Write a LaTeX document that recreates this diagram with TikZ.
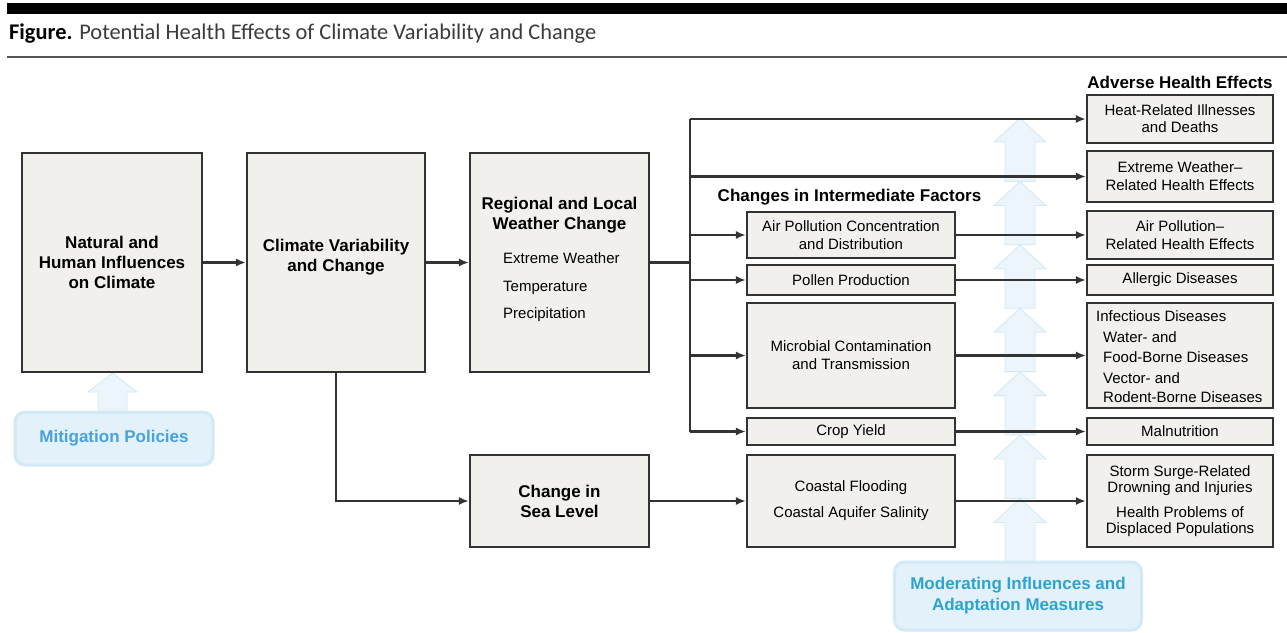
\documentclass[tikz,border=0pt]{standalone}
\usepackage{fontspec}
\setmainfont{Liberation Sans}
\newfontfamily\titlefont{Carlito}
\usetikzlibrary{arrows.meta,calc}
\definecolor{boxfill}{HTML}{F1F0EC}
\definecolor{boxline}{HTML}{333333}
\definecolor{titlegray}{HTML}{3B3B3B}
\definecolor{rulegray}{HTML}{555555}
\definecolor{blutxt}{HTML}{47A2DF}
\definecolor{tealtxt}{HTML}{2EA3CF}
\definecolor{bluefill}{HTML}{E3F1FA}
\definecolor{blueedge}{HTML}{D2E9F6}
\definecolor{arrowfill}{HTML}{DDEFF9}
\definecolor{arrowedge}{HTML}{CBE4F3}
\begin{document}
\begin{tikzpicture}[x=1pt,y=-1pt,
  box/.style={draw=boxline, line width=2.1pt, fill=boxfill, inner sep=0pt, align=center,
              font=\fontsize{15}{18}\selectfont},
  bbox/.style={box, font=\bfseries\fontsize{17}{20}\selectfont},
  txt/.style={inner sep=0pt, font=\fontsize{15}{18}\selectfont},
  hdr/.style={inner sep=0pt, font=\bfseries\fontsize{17}{20}\selectfont},
  conn/.style={draw=boxline, line width=2.1pt},
  arr/.style={conn, -{Latex[length=10pt,width=8pt]}},
  bluebox/.style={draw=blueedge, line width=3pt, fill=bluefill, rounded corners=10pt, align=center,
                  inner sep=0pt, font=\bfseries\fontsize{17}{20}\selectfont},
  uparrow/.style={fill=arrowfill, fill opacity=0.6, draw=arrowedge, draw opacity=0.8, line width=0.8pt}
]
\useasboundingbox (0,0) rectangle (1287,632);

% header
\fill[black] (7,3) rectangle (1287,14);
\node[anchor=base west, inner sep=0pt] (title) at (9,39)
  {\titlefont\fontsize{22.4}{26}\selectfont\textbf{Figure.} \color{titlegray}Potential Health Effects of Climate Variability and Change};
\draw[rulegray, line width=1.8pt] (7,57) -- (1287,57);

% moderating arrows column (behind everything)
\foreach \t in {118,181.4,244.8,308.2,371.6,435,498.4} {
  \draw[uparrow] (1005,{\t+63.4}) -- (1005,{\t+24}) -- (994,{\t+24}) -- (1020,\t)
     -- (1046,{\t+24}) -- (1035,{\t+24}) -- (1035,{\t+63.4}) -- cycle;
}

% mitigation arrow
\draw[uparrow] (98,413) -- (98,392) -- (88,392) -- (112.5,373) -- (137,392) -- (127,392) -- (127,413) -- cycle;

% main boxes
\node[bbox, minimum width=180pt, minimum height=219pt] (nat) at (112,262.5)
  {Natural and\\Human Influences\\on Climate};
\node[bbox, minimum width=178pt, minimum height=219pt] (cvc) at (336,262.5)
  {Climate Variability\\and Change\\[-6pt]};
\node[box, minimum width=179pt, minimum height=219pt] (reg) at (559.5,262.5) {};
\node[hdr, align=center, anchor=north] (regt) at (559.5,197) {Regional and Local\\Weather Change};
\node[txt, anchor=base west] (rw1) at (503,263) {Extreme Weather};
\node[txt, anchor=base west] (rw2) at (503,291) {Temperature};
\node[txt, anchor=base west] (rw3) at (503,318) {Precipitation};
\node[bbox, minimum width=179pt, minimum height=92pt] (sea) at (559.5,501)
  {Change in\\Sea Level};

% intermediate factors
\node[hdr, anchor=base] (cif) at (849.5,201) {Changes in Intermediate Factors};
\node[box, minimum width=208pt, minimum height=46pt] (air) at (851,235)
  {Air Pollution Concentration\\and Distribution};
\node[box, minimum width=208pt, minimum height=30pt] (pol) at (851,280) {Pollen Production};
\node[box, minimum width=208pt, minimum height=105pt] (mic) at (851,355.5)
  {Microbial Contamination\\and Transmission};
\node[box, minimum width=208pt, minimum height=27pt] (crop) at (851,431.5) {Crop Yield};
\node[box, minimum width=208pt, minimum height=92pt, font=\fontsize{15}{26}\selectfont] (coast) at (851,501)
  {Coastal Flooding\\Coastal Aquifer Salinity};

% adverse health effects
\node[hdr, anchor=base] (ahe) at (1180,88) {Adverse Health Effects};
\node[box, minimum width=186pt, minimum height=48pt, font=\fontsize{15}{17}\selectfont] (heat) at (1180,119)
  {Heat-Related Illnesses\\and Deaths};
\node[box, minimum width=186pt, minimum height=51pt] (ext) at (1180,176.5)
  {Extreme Weather–\\Related Health Effects};
\node[box, minimum width=186pt, minimum height=48pt] (airh) at (1180,235)
  {Air Pollution–\\Related Health Effects};
\node[box, minimum width=186pt, minimum height=30pt] (alg) at (1180,280) {Allergic Diseases};
\node[box, minimum width=186pt, minimum height=105pt] (inf) at (1180,355.5) {};
\node[txt, anchor=base west] (inf1) at (1096,321) {Infectious Diseases};
\node[txt, anchor=base west] (inf2) at (1103,342) {Water- and};
\node[txt, anchor=base west] (inf3) at (1103,362) {Food-Borne Diseases};
\node[txt, anchor=base west] (inf4) at (1103,383) {Vector- and};
\node[txt, anchor=base west] (inf5) at (1103,402) {Rodent-Borne Diseases};
\node[box, minimum width=186pt, minimum height=27pt] (mal) at (1180,431.5) {Malnutrition};
\node[box, minimum width=186pt, minimum height=92pt, font=\fontsize{15}{16.5}\selectfont] (storm) at (1180,501)
  {Storm Surge-Related\\Drowning and Injuries\\[8pt]Health Problems of\\Displaced Populations};

% blue boxes
\node[bluebox, minimum width=198pt, minimum height=53pt, text=blutxt] (mitig) at (114,438.5) {Mitigation Policies};
\node[bluebox, minimum width=247pt, minimum height=68pt, text=tealtxt, font=\bfseries\fontsize{17}{21}\selectfont] (moder) at (1018,596)
  {Moderating Influences and\\Adaptation Measures};

% connectors
\coordinate (bt) at (690,119);
\coordinate (bb) at (690,431.5);
\draw[arr] (nat) -- (cvc);
\draw[arr] (cvc) -- (reg);
\draw[conn] (reg.east) -- (reg.east -| bt);
\draw[conn] (bt) -- (bb);
\draw[arr] (bt) -- (heat.west);
\draw[arr] (bt |- ext.west) -- (ext.west);
\draw[arr] (bt |- air.west) -- (air.west);
\draw[arr] (bt |- pol.west) -- (pol.west);
\draw[arr] (bt |- mic.west) -- (mic.west);
\draw[arr] (bb) -- (crop.west);
\draw[arr] (cvc.south) |- (sea.west);
\draw[arr] (sea) -- (coast);
\draw[arr] (air) -- (airh);
\draw[arr] (pol) -- (alg);
\draw[arr] (mic) -- (inf);
\draw[arr] (crop) -- (mal);
\draw[arr] (coast) -- (storm);
\end{tikzpicture}
\end{document}
